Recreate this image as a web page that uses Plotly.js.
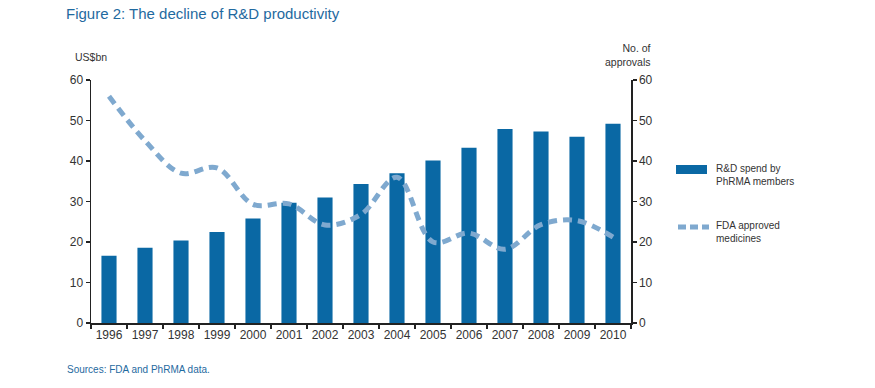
<!DOCTYPE html>
<html>
<head>
<meta charset="utf-8">
<script src="https://cdn.plot.ly/plotly-3.0.1.min.js"></script>
<style>html,body{margin:0;padding:0;background:#fff;}#chart{width:875px;height:388px;}</style>
</head>
<body>
<div id="chart"></div>
<script>
const years = ['1996','1997','1998','1999','2000','2001','2002','2003','2004','2005','2006','2007','2008','2009','2010'];
const rdSpend = [16.6, 18.6, 20.4, 22.5, 25.8, 29.7, 31.0, 34.3, 37.0, 40.1, 43.3, 47.9, 47.3, 46.0, 49.2];
const fdaApprovals = [56, 45, 37, 38.3, 29.3, 29.4, 24.2, 26.8, 36, 20, 22.2, 18.2, 24.3, 25.3, 21.2];
const leftTicks = [0, 10, 20, 30, 40, 50, 60];
const rightTicks = [0, 10, 20, 30, 40, 50, 60];

const W = 875, H = 388;
const L = 91, R = 631, T = 80, B = 323;
const px = x => (x - L) / (R - L);
const py = y => (B - y) / (B - T);

const barColor = '#0a68a4';
const lineColor = '#7fa9cf';
const textColor = '#333333';
const blue = '#1f6aa0';
const fontFam = 'Liberation Sans, Arial, sans-serif';

const traces = [
  {
    type: 'bar', x: years, y: rdSpend, name: 'R&D spend by PhRMA members',
    marker: {color: barColor}, width: 0.42, yaxis: 'y', hoverinfo: 'x+y'
  },
  {
    type: 'scatter', mode: 'lines', x: years, y: fdaApprovals, name: 'FDA approved medicines',
    line: {color: lineColor, width: 5, dash: '9px,6px', shape: 'spline', smoothing: 1.0},
    yaxis: 'y2'
  }
];

const axisCommon = {
  range: [0, 60], tickvals: leftTicks, ticks: 'outside', ticklen: 4, tickwidth: 1.2, tickcolor: '#222',
  showline: true, linecolor: '#222', linewidth: 1.5, showgrid: false, zeroline: false,
  tickfont: {family: fontFam, size: 12, color: textColor}, fixedrange: true
};

const layout = {
  width: W, height: H,
  margin: {l: L, r: W - R, t: T, b: H - B, pad: 0, autoexpand: false},
  paper_bgcolor: '#fff', plot_bgcolor: '#fff',
  showlegend: false,
  font: {family: fontFam, color: textColor},
  title: {
    text: 'Figure 2: The decline of R&D productivity',
    x: 66 / W, xref: 'container', xanchor: 'left',
    y: 1 - 14 / H, yref: 'container', yanchor: 'middle',
    font: {family: fontFam, size: 15, color: blue}
  },
  xaxis: {
    type: 'category', tickson: 'boundaries', ticks: 'outside', ticklen: 4, tickwidth: 1.2, tickcolor: '#222',
    showline: true, linecolor: '#222', linewidth: 1.5, showgrid: false, zeroline: false, tickangle: 0,
    tickfont: {family: fontFam, size: 12, color: textColor}, fixedrange: true
  },
  yaxis: Object.assign({}, axisCommon, {side: 'left'}),
  yaxis2: Object.assign({}, axisCommon, {tickvals: rightTicks, side: 'right', overlaying: 'y'}),
  bargap: 0.58,
  shapes: [
    {type: 'rect', xref: 'paper', yref: 'paper', x0: px(676), x1: px(707), y0: py(174), y1: py(165),
     fillcolor: barColor, line: {width: 0}},
    {type: 'line', xref: 'paper', yref: 'paper', x0: px(678), x1: px(709), y0: py(227), y1: py(227),
     line: {color: lineColor, width: 5, dash: '8px,4px'}}
  ],
  annotations: [
    {text: 'US$bn', xref: 'paper', yref: 'paper', x: px(73), y: py(57), xanchor: 'left', yanchor: 'middle',
     showarrow: false, font: {family: fontFam, size: 10.5, color: textColor}},
    {text: 'No. of<br>approvals', xref: 'paper', yref: 'paper', x: px(653), y: py(55), xanchor: 'right', yanchor: 'middle',
     align: 'right', showarrow: false, font: {family: fontFam, size: 10.5, color: textColor}},
    {text: 'R&D spend by<br>PhRMA members', xref: 'paper', yref: 'paper', x: px(714), y: py(175), xanchor: 'left', yanchor: 'middle',
     align: 'left', showarrow: false, font: {family: fontFam, size: 10, color: textColor}},
    {text: 'FDA approved<br>medicines', xref: 'paper', yref: 'paper', x: px(714), y: py(232), xanchor: 'left', yanchor: 'middle',
     align: 'left', showarrow: false, font: {family: fontFam, size: 10, color: textColor}},
    {text: 'Sources: FDA and PhRMA data.', xref: 'paper', yref: 'paper', x: px(65), y: py(369), xanchor: 'left', yanchor: 'middle',
     showarrow: false, font: {family: fontFam, size: 10, color: blue}}
  ]
};

Plotly.newPlot('chart', traces, layout, {displayModeBar: false, staticPlot: true});
</script>
</body>
</html>
